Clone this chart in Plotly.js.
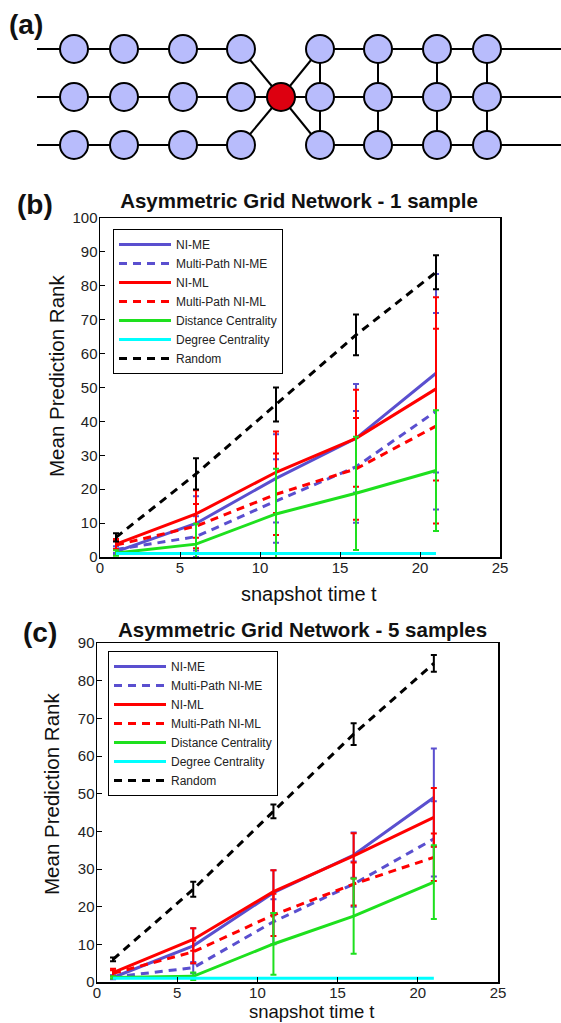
<!DOCTYPE html>
<html>
<head>
<meta charset="utf-8">
<script src="https://cdn.plot.ly/plotly-3.0.1.min.js"></script>
<style>html,body{margin:0;padding:0;background:#fff;}#chart{width:561px;height:1023px;}</style>
</head>
<body>
<div id="chart"></div>
<script>
// ---------- data ----------
const snapshotT = [1, 6, 11, 16, 21];

// panel (b): 1 sample
const niMeB      = [1.6, 9.9, 23.2, 35.0, 54.2];
const niMeErrB   = [0.8, 8.0, 13.0, 16.0, 29.3];
const mpNiMeB    = [2.2, 6.0, 16.5, 26.6, 43.0];
const mpNiMeErrB = [1.0, 6.0, 12.3, 16.5, 29.0];
const niMlB      = [3.8, 12.7, 25.0, 35.0, 49.6];
const niMlErrB   = [1.5, 7.0, 12.0, 14.3, 27.0];
const mpNiMlB    = [3.5, 9.1, 18.5, 26.0, 38.6];
const mpNiMlErrB = [1.2, 6.5, 12.0, 15.0, 28.7];
const distB      = [1.2, 3.8, 12.7, 18.8, 25.5];
const distErrB   = [0.8, 6.0, 13.3, 16.7, 17.8];
const degB       = [1, 1, 1, 1, 1];
const randB      = [5.8, 24.5, 45.0, 65.5, 84.0];
const randErrB   = [1.2, 4.6, 5.0, 6.0, 5.0];

// panel (c): 5 samples
const niMeC      = [1.2, 9.6, 23.7, 33.7, 49.0];
const niMeErrC   = [0.5, 4.7, 6.0, 6.0, 13.0];
const mpNiMeC    = [1.3, 3.8, 16.0, 26.0, 38.0];
const mpNiMeErrC = [0.5, 1.5, 6.0, 6.0, 10.0];
const niMlC      = [2.5, 11.3, 24.0, 33.5, 43.7];
const niMlErrC   = [1.0, 3.0, 5.7, 6.0, 7.8];
const mpNiMlC    = [2.3, 8.0, 17.8, 26.0, 33.1];
const mpNiMlErrC = [0.8, 3.0, 5.6, 5.7, 6.3];
const distC      = [1.2, 1.5, 10.1, 17.5, 26.5];
const distErrC   = [0.3, 1.0, 8.2, 10.0, 9.8];
const degC       = [1, 1, 1, 1, 1];
const randC      = [6.0, 24.6, 45.3, 65.8, 84.6];
const randErrC   = [0.5, 2.0, 1.8, 2.9, 2.2];

const seriesNames = ["NI-ME", "Multi-Path NI-ME", "NI-ML", "Multi-Path NI-ML",
                     "Distance Centrality", "Degree Centrality", "Random"];

// panel (a): network diagram (diagram coordinates)
const gridCols   = [74, 124, 183, 241, 320, 378, 437, 487];
const gridRows   = [49, 97, 145];
const hubNode    = [281, 97];
const edgeStartX = 37;
const edgeEndX   = 561;

// ---------- styles ----------
const FONT = "Liberation Sans, Arial, sans-serif";
const BLUE = "#5a4fcf", RED = "#ff0000", GREEN = "#1ee01e", CYAN = "#00ffff", BLACK = "#000000";
const DASH = "8px,6px";
const styles = [
  {color: BLUE, dash: "solid"}, {color: BLUE, dash: DASH},
  {color: RED, dash: "solid"},  {color: RED, dash: DASH},
  {color: GREEN, dash: "solid"}, {color: CYAN, dash: "solid"},
  {color: BLACK, dash: DASH}
];

function mk(y, err, i, xa, ya, lg) {
  const t = {
    x: snapshotT, y: y, type: "scatter", mode: "lines", name: seriesNames[i],
    xaxis: xa, yaxis: ya, legend: lg, cliponaxis: true,
    line: {color: styles[i].color, width: 3, dash: styles[i].dash}
  };
  if (err) t.error_y = {type: "data", array: err, visible: true, color: styles[i].color, thickness: 2, width: 3};
  return t;
}

const dataB = [
  mk(niMeB, niMeErrB, 0, "x", "y", "legend"),
  mk(mpNiMeB, mpNiMeErrB, 1, "x", "y", "legend"),
  mk(niMlB, niMlErrB, 2, "x", "y", "legend"),
  mk(mpNiMlB, mpNiMlErrB, 3, "x", "y", "legend"),
  mk(distB, distErrB, 4, "x", "y", "legend"),
  mk(degB, null, 5, "x", "y", "legend"),
  mk(randB, randErrB, 6, "x", "y", "legend")
];
const dataC = [
  mk(niMeC, niMeErrC, 0, "x2", "y2", "legend2"),
  mk(mpNiMeC, mpNiMeErrC, 1, "x2", "y2", "legend2"),
  mk(niMlC, niMlErrC, 2, "x2", "y2", "legend2"),
  mk(mpNiMlC, mpNiMlErrC, 3, "x2", "y2", "legend2"),
  mk(distC, distErrC, 4, "x2", "y2", "legend2"),
  mk(degC, null, 5, "x2", "y2", "legend2"),
  mk(randC, randErrC, 6, "x2", "y2", "legend2")
];

// network edges
const ex = [], ey = [];
function seg(x0, y0, x1, y1) { ex.push(x0, x1, null); ey.push(y0, y1, null); }
const leftLast = gridCols[3], rightFirst = gridCols[4];
[gridRows[0], gridRows[2]].forEach(r => { seg(edgeStartX, r, leftLast, r); seg(rightFirst, r, edgeEndX, r); });
seg(edgeStartX, gridRows[1], edgeEndX, gridRows[1]);
gridCols.slice(4).forEach(c => seg(c, gridRows[0], c, gridRows[2]));
[[leftLast, gridRows[0]], [leftLast, gridRows[2]], [rightFirst, gridRows[0]], [rightFirst, gridRows[2]]]
  .forEach(p => seg(p[0], p[1], hubNode[0], hubNode[1]));
const nx = [], ny = [];
gridRows.forEach(r => gridCols.forEach(c => { nx.push(c); ny.push(r); }));

const dataA = [
  {x: ex, y: ey, type: "scatter", mode: "lines", xaxis: "x3", yaxis: "y3", showlegend: false,
   line: {color: "#000", width: 2}, hoverinfo: "skip"},
  {x: nx, y: ny, type: "scatter", mode: "markers", xaxis: "x3", yaxis: "y3", showlegend: false,
   marker: {size: 28, color: "#b8bcfc", line: {color: "#000", width: 2}}},
  {x: [hubNode[0]], y: [hubNode[1]], type: "scatter", mode: "markers", xaxis: "x3", yaxis: "y3", showlegend: false,
   marker: {size: 28, color: "#dd0010", line: {color: "#000", width: 2}}}
];

const H = 1023, W = 561;
const py = p => 1 - p / H, px = p => p / W;

function xAx(dom, anchor) {
  return {domain: dom, anchor: anchor, range: [0, 25], dtick: 5, tick0: 0,
    ticks: "inside", ticklen: 5, tickcolor: "#000", showline: true, mirror: true,
    linecolor: "#000", linewidth: 1.5, showgrid: false, zeroline: false, ticklabelstandoff: -4,
    tickfont: {family: FONT, size: 15, color: "#222"}};
}
function yAx(dom, anchor, max) {
  return {domain: dom, anchor: anchor, range: [0, max], dtick: 10, tick0: 0,
    ticks: "inside", ticklen: 5, tickcolor: "#000", showline: true, mirror: true,
    linecolor: "#000", linewidth: 1.5, showgrid: false, zeroline: false, ticklabelstandoff: -2,
    tickfont: {family: FONT, size: 15, color: "#222"}};
}
function lg(xp, yp) {
  return {x: px(xp), y: py(yp), xanchor: "left", yanchor: "top", xref: "paper", yref: "paper",
    bgcolor: "#fff", bordercolor: "#000", borderwidth: 1, itemwidth: 52,
    font: {family: FONT, size: 12, color: "#222"}, tracegroupgap: 0};
}
function ann(text, x, y, size, extra) {
  return Object.assign({text: text, x: px(x), y: py(y), xref: "paper", yref: "paper",
    xanchor: "center", yanchor: "middle", showarrow: false,
    font: {family: FONT, size: size, color: "#111"}}, extra || {});
}

const layout = {
  width: W, height: H, margin: {l: 0, r: 0, t: 0, b: 0},
  paper_bgcolor: "#fff", plot_bgcolor: "#fff", showlegend: true,
  title: {text: "<b>Asymmetric Grid Network - 1 sample</b>", x: px(299), y: py(201),
    xref: "paper", yref: "paper", xanchor: "center", yanchor: "middle",
    font: {family: FONT, size: 20.5, color: "#111"}},
  xaxis: xAx([px(100), px(500)], "y"),
  yaxis: yAx([py(557), py(218)], "x", 100),
  xaxis2: xAx([px(97), px(498)], "y2"),
  yaxis2: yAx([py(982), py(643)], "x2", 90),
  xaxis3: {domain: [0, 1], range: [0, W], visible: false, fixedrange: true, anchor: "y3"},
  yaxis3: {domain: [py(170), 1], range: [170, 0], visible: false, fixedrange: true, anchor: "x3"},
  legend: lg(113, 229),
  legend2: lg(108, 651),
  annotations: [
    ann("<b>(a)</b>", 26, 25, 28),
    ann("<b>(b)</b>", 35, 204, 28),
    ann("<b>(c)</b>", 40, 632, 28),
    ann("<b>Asymmetric Grid Network - 5 samples</b>", 302, 629, 20.5),
    ann("snapshot time t", 309, 594, 20),
    ann("snapshot time t", 311, 1023, 18.5, {yanchor: "bottom", borderpad: 0}),
    ann("Mean Prediction Rank", 56, 376, 20.5, {textangle: -90}),
    ann("Mean Prediction Rank", 51, 794, 20.5, {textangle: -90})
  ]
};

Plotly.newPlot("chart", dataA.concat(dataB, dataC), layout, {staticPlot: true, displayModeBar: false});
</script>
</body>
</html>
